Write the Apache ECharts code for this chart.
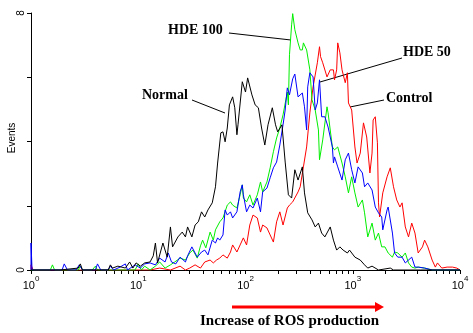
<!DOCTYPE html>
<html>
<head>
<meta charset="utf-8">
<script src="https://cdn.jsdelivr.net/npm/echarts@6/dist/echarts.min.js"></script>
<style>
html,body{margin:0;padding:0;background:#fff;}
#chart{width:473px;height:333px;}
</style>
</head>
<body>
<div id="chart"></div>
<script>
// x = log10(fluorescence), y = events
var normalPts = [[0,0],[0.27,0],[0.44,0.06],[0.46,0.19],[0.48,0],[0.64,0],[0.72,0],[0.74,0.16],[0.76,0.06],[0.81,0.12],[0.88,0.06],[0.92,0.25],[0.95,0.06],[0.98,0.22],[1.02,0.12],[1.06,0.22],[1.11,0.25],[1.14,0.44],[1.16,0.84],[1.18,0.22],[1.23,0.84],[1.27,0.40],[1.30,1.34],[1.32,0.72],[1.37,1.03],[1.41,1.18],[1.44,1.03],[1.46,1.34],[1.50,1.03],[1.53,1.40],[1.56,1.50],[1.59,1.81],[1.62,1.65],[1.65,1.87],[1.69,2.09],[1.72,2.59],[1.74,3.33],[1.77,4.27],[1.79,4.30],[1.81,3.99],[1.83,4.42],[1.85,5.14],[1.88,5.39],[1.90,5.05],[1.92,4.21],[1.93,4.52],[1.97,5.86],[2.00,5.54],[2.02,5.98],[2.06,5.45],[2.09,5.14],[2.12,5.05],[2.15,4.42],[2.18,3.89],[2.21,4.52],[2.25,5.05],[2.28,4.52],[2.30,4.30],[2.34,4.52],[2.37,3.36],[2.40,2.34],[2.43,2.24],[2.46,3.12],[2.49,2.80],[2.53,3.21],[2.55,2.40],[2.58,1.78],[2.62,1.56],[2.65,1.34],[2.68,1.46],[2.71,1.15],[2.74,1.03],[2.79,1.34],[2.82,0.93],[2.85,0.62],[2.88,0.72],[2.91,0.62],[2.95,0.53],[2.97,0.62],[3.02,0.40],[3.07,0.31],[3.11,0.16],[3.14,0.06],[3.18,0.12],[3.24,0],[3.35,0.06],[3.38,0],[3.63,0],[4.0,0]];

var hde100Pts = [[0,0],[0.18,0],[0.20,0.16],[0.22,0],[0.44,0],[0.46,0.12],[0.48,0],[0.57,0],[0.60,0.12],[0.62,0],[0.97,0],[1.00,0.19],[1.03,0],[1.06,0.12],[1.11,0],[1.16,0.12],[1.20,0.25],[1.25,0.06],[1.30,0.16],[1.34,0.25],[1.39,0.37],[1.44,0.31],[1.48,0.53],[1.51,0.62],[1.55,0.37],[1.58,0.75],[1.60,0.93],[1.63,0.69],[1.67,1.18],[1.70,0.93],[1.72,1.25],[1.76,1.50],[1.79,1.62],[1.83,2.02],[1.86,2.12],[1.88,2.02],[1.92,1.93],[1.95,2.34],[1.97,2.65],[1.98,2.24],[2.01,2.12],[2.04,2.34],[2.07,2.02],[2.11,2.34],[2.14,2.74],[2.16,2.43],[2.20,2.74],[2.23,3.18],[2.26,3.68],[2.29,4.11],[2.32,4.42],[2.35,4.83],[2.39,5.54],[2.40,5.14],[2.41,6.70],[2.43,7.63],[2.44,7.98],[2.46,7.48],[2.49,7.07],[2.51,6.85],[2.53,6.85],[2.54,7.07],[2.55,7.07],[2.57,6.85],[2.60,6.23],[2.62,5.30],[2.65,4.98],[2.68,4.36],[2.69,3.43],[2.72,4.05],[2.76,5.08],[2.77,4.89],[2.81,3.83],[2.83,3.74],[2.86,3.83],[2.90,3.33],[2.93,2.90],[2.96,2.40],[2.99,2.90],[3.02,2.40],[3.05,1.96],[3.09,2.18],[3.11,1.78],[3.14,1.03],[3.18,1.46],[3.21,0.93],[3.24,1.15],[3.27,0.72],[3.30,0.72],[3.33,0.53],[3.37,0.40],[3.39,0.56],[3.42,0.53],[3.46,0.40],[3.49,0.53],[3.52,0.22],[3.55,0.09],[3.58,0.06],[3.61,0.09],[3.67,0.06],[3.74,0],[4.0,0]];

var hde50Pts = [[0,0],[0,0.84],[0.01,0],[0.29,0],[0.31,0.19],[0.34,0],[0.42,0],[0.45,0.16],[0.48,0],[0.60,0],[0.62,0.19],[0.65,0],[0.72,0],[0.74,0.12],[0.77,0],[0.83,0.09],[0.88,0.19],[0.90,0],[0.97,0.16],[1.02,0.06],[1.06,0.19],[1.11,0.22],[1.16,0.16],[1.20,0.37],[1.25,0.25],[1.28,0.53],[1.31,0.25],[1.35,0.19],[1.39,0.40],[1.44,0.25],[1.46,0.44],[1.50,0.72],[1.55,0.40],[1.59,0.56],[1.62,0.62],[1.65,0.47],[1.69,0.93],[1.72,0.84],[1.74,1.00],[1.76,0.93],[1.79,1.09],[1.81,1.87],[1.83,1.71],[1.86,1.81],[1.88,1.62],[1.92,1.81],[1.95,2.43],[1.97,2.65],[1.98,2.34],[2.01,1.81],[2.04,2.02],[2.07,1.93],[2.11,2.24],[2.14,1.81],[2.16,2.43],[2.20,2.55],[2.23,2.87],[2.26,3.18],[2.29,3.36],[2.32,3.89],[2.35,4.52],[2.37,4.98],[2.39,5.67],[2.41,5.45],[2.44,5.95],[2.46,6.10],[2.49,5.39],[2.53,5.51],[2.55,5.08],[2.57,4.36],[2.58,5.70],[2.60,6.14],[2.63,6.01],[2.65,4.98],[2.67,5.20],[2.69,5.92],[2.71,4.77],[2.74,4.77],[2.77,4.45],[2.81,3.83],[2.82,3.33],[2.83,3.52],[2.86,3.21],[2.90,2.80],[2.93,3.43],[2.96,3.64],[2.99,3.12],[3.02,2.71],[3.05,3.21],[3.09,3.02],[3.11,2.59],[3.14,2.71],[3.18,2.49],[3.21,1.96],[3.24,1.78],[3.27,1.65],[3.28,1.25],[3.32,1.87],[3.33,1.96],[3.37,1.15],[3.39,0.53],[3.42,0.40],[3.46,0.40],[3.49,0.22],[3.55,0.40],[3.58,0.09],[3.61,0.09],[3.67,0.06],[3.74,0],[4.0,0]];

var controlPts = [[0,0],[0,0.16],[0.02,0],[1.11,0],[1.20,0.06],[1.30,0],[1.39,0.12],[1.44,0],[1.48,0.06],[1.53,0.16],[1.58,0.06],[1.62,0.25],[1.67,0.31],[1.70,0.22],[1.73,0.31],[1.76,0.37],[1.79,0.47],[1.83,0.37],[1.86,0.56],[1.88,0.78],[1.92,0.56],[1.95,0.78],[1.98,1.00],[2.01,0.78],[2.04,1.40],[2.07,1.71],[2.11,1.62],[2.14,1.18],[2.16,1.40],[2.20,1.31],[2.23,1.09],[2.26,0.87],[2.29,1.50],[2.32,1.81],[2.35,1.40],[2.39,1.93],[2.41,2.02],[2.44,2.12],[2.49,2.43],[2.51,2.59],[2.54,3.21],[2.57,3.83],[2.60,4.89],[2.63,5.70],[2.67,6.45],[2.69,6.95],[2.70,6.64],[2.72,6.45],[2.76,6.01],[2.79,6.23],[2.82,6.23],[2.83,5.92],[2.85,6.23],[2.86,7.07],[2.88,6.76],[2.90,6.23],[2.93,5.83],[2.95,6.14],[2.96,5.20],[2.99,4.98],[3.02,3.83],[3.04,3.33],[3.07,3.64],[3.10,4.58],[3.13,4.14],[3.16,3.02],[3.18,3.64],[3.19,4.67],[3.21,4.77],[3.23,3.96],[3.24,2.09],[3.25,1.65],[3.28,2.40],[3.32,2.90],[3.35,3.18],[3.38,2.59],[3.41,2.18],[3.44,1.96],[3.46,2.09],[3.49,1.34],[3.52,1.03],[3.55,1.46],[3.58,1.15],[3.61,0.53],[3.65,0.72],[3.67,0.93],[3.70,0.72],[3.74,0.31],[3.77,0.09],[3.79,0.22],[3.83,0.06],[3.88,0.09],[3.93,0.09],[3.97,0.06],[4.0,0]];

var decades = [0, 1, 2, 3, 4];
var yTickLabels = ['0', '8'];

// log tick positions (1..9 x 10^d)
var tickVals = [];
for (var d = 0; d < 4; d++) {
	for (var m = 1; m < 10; m++) {
		tickVals.push(d + Math.log10(m));
	}
}
tickVals.push(4);

var serifBold = {fontFamily: 'Liberation Serif', fontWeight: 'bold', fontSize: 14, fill: '#000'};

function mkLine(name, color, pts)
{
	return {
		name: name,
		type: 'line',
		data: pts,
		symbol: 'none',
		lineStyle: {color: color, width: 1},
		itemStyle: {color: color}
	};
}

var chart = echarts.init(document.getElementById('chart'));
chart.setOption({
	animation: false,
	backgroundColor: '#fff',
	grid: {left: 31, right: 13, top: 13, bottom: 63, containLabel: false, outerBoundsMode: 'none'},
	xAxis: {
		type: 'value',
		min: 0,
		max: 4,
		splitLine: {show: false},
		axisLine: {lineStyle: {color: '#000', width: 1}},
		axisTick: {show: true, length: 4, customValues: tickVals, lineStyle: {color: '#000'}},
		axisLabel: {
			customValues: decades,
			margin: 5,
			formatter: function (v) { return '{b|10}{s|' + v + '}'; },
			rich: {
				b: {fontFamily: 'Liberation Sans', fontSize: 11, color: '#000', lineHeight: 16, verticalAlign: 'bottom'},
				s: {fontFamily: 'Liberation Sans', fontSize: 8, color: '#000', lineHeight: 16, verticalAlign: 'top'}
			}
		}
	},
	yAxis: {
		type: 'value',
		min: 0,
		max: 8,
		interval: 2,
		splitLine: {show: false},
		axisLine: {show: true, lineStyle: {color: '#000', width: 1}},
		axisTick: {show: true, length: 4, lineStyle: {color: '#000'}},
		axisLabel: {
			rotate: 90,
			margin: 5,
			fontFamily: 'Liberation Sans',
			fontSize: 10,
			color: '#000',
			formatter: function (v) {
				return yTickLabels.indexOf(String(v)) >= 0 ? String(v) : '';
			}
		}
	},
	series: [
		mkLine('Control', '#ff0000', controlPts),
		mkLine('HDE 100', '#00ee00', hde100Pts),
		mkLine('HDE 50', '#0000ff', hde50Pts),
		mkLine('Normal', '#000000', normalPts)
	],
	graphic: [
		// y axis title
		{type: 'text', x: 12, y: 138, rotation: Math.PI / 2, style: {text: 'Events', align: 'center', verticalAlign: 'middle', fontFamily: 'Liberation Sans', fontSize: 10, fill: '#000'}},
		// labels with leader lines
		{type: 'text', left: 168, top: 23, style: Object.assign({text: 'HDE 100'}, serifBold)},
		{type: 'line', shape: {x1: 229, y1: 33, x2: 291, y2: 40}, style: {stroke: '#000', lineWidth: 1}},
		{type: 'text', left: 403, top: 45, style: Object.assign({text: 'HDE 50'}, serifBold)},
		{type: 'line', shape: {x1: 402, y1: 58, x2: 320, y2: 82}, style: {stroke: '#000', lineWidth: 1}},
		{type: 'text', left: 142, top: 88, style: Object.assign({text: 'Normal'}, serifBold)},
		{type: 'line', shape: {x1: 192, y1: 100, x2: 225, y2: 113}, style: {stroke: '#000', lineWidth: 1}},
		{type: 'text', left: 386, top: 91, style: Object.assign({text: 'Control'}, serifBold)},
		{type: 'line', shape: {x1: 384, y1: 100, x2: 350, y2: 107}, style: {stroke: '#000', lineWidth: 1}},
		// red arrow
		{type: 'line', shape: {x1: 232, y1: 307, x2: 376, y2: 307}, style: {stroke: '#ff0000', lineWidth: 3}},
		{type: 'polygon', shape: {points: [[375, 302], [384, 307], [375, 312]]}, style: {fill: '#ff0000'}},
		{type: 'text', left: 200, top: 314, style: {text: 'Increase of ROS production', fontFamily: 'Liberation Serif', fontWeight: 'bold', fontSize: 15, fill: '#000'}}
	]
});
</script>
</body>
</html>
